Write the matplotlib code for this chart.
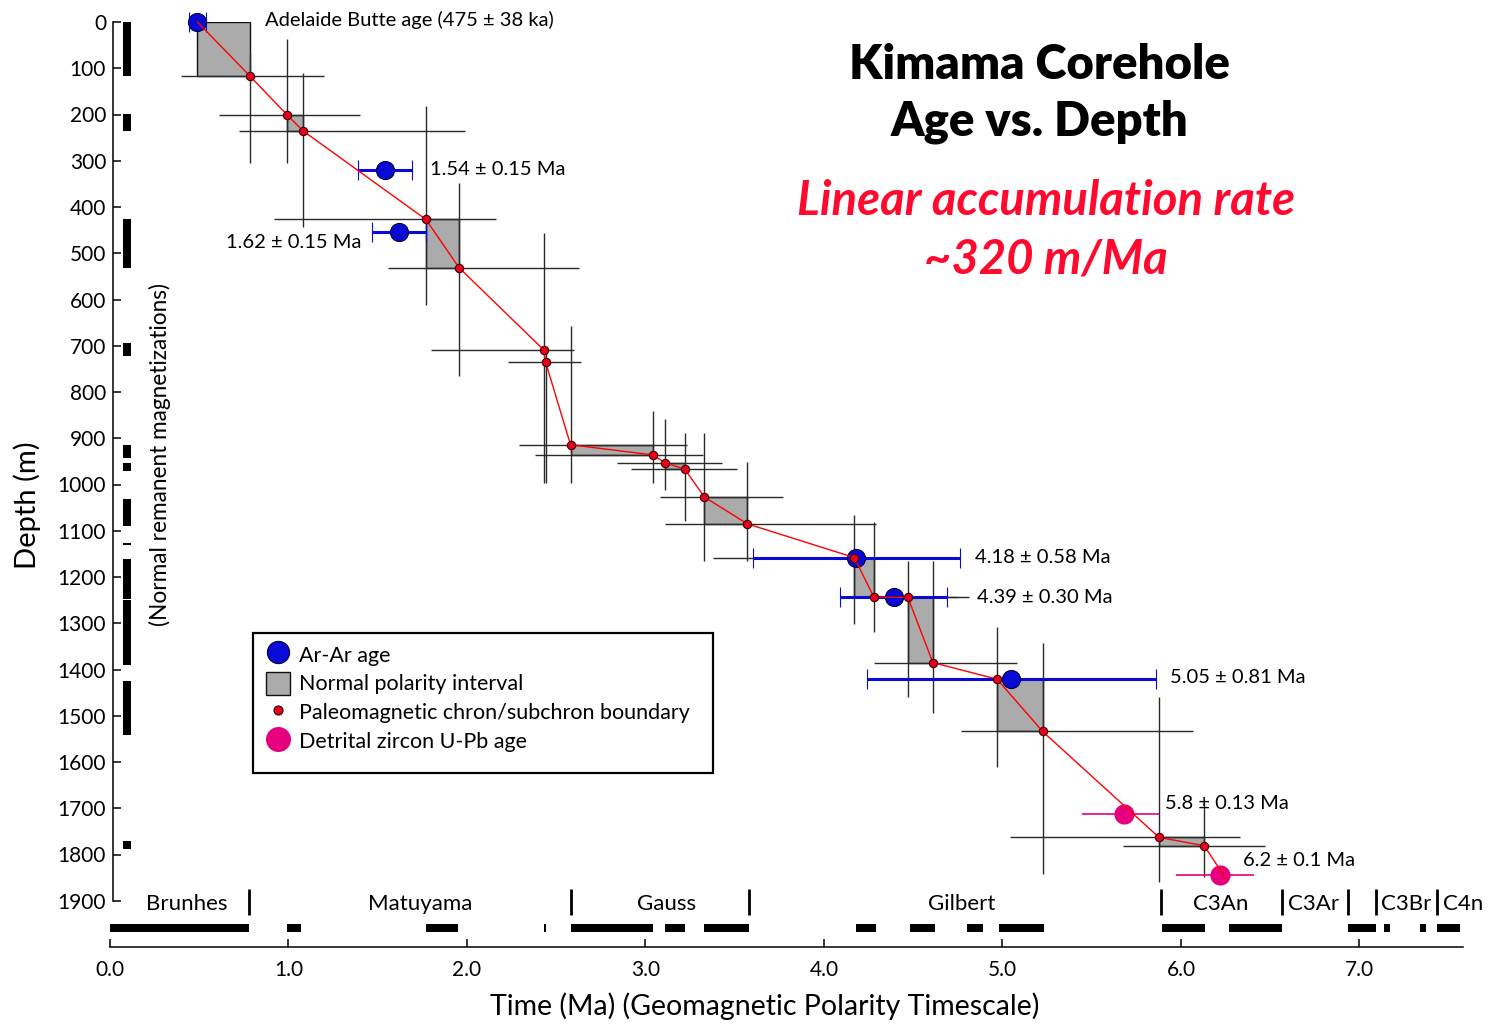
import matplotlib
matplotlib.use("Agg")
import matplotlib.pyplot as plt
from matplotlib.patches import Rectangle, Patch
from matplotlib.lines import Line2D

plt.rcParams['font.family'] = ['Lato', 'DejaVu Sans']

# ---------------- data ----------------
# Paleomagnetic chron/subchron boundaries: age (Ma), depth (m)
chron_age = [0.784, 0.99, 1.08, 1.77, 1.955, 2.43, 2.44, 2.58, 3.04, 3.11, 3.22,
             3.33, 3.57, 4.17, 4.28, 4.47, 4.61, 4.97, 5.225, 5.877, 6.13]
chron_depth = [117, 200, 235, 427, 531, 709, 735, 914, 936, 953, 967,
               1027, 1085, 1158, 1244, 1244, 1385, 1421, 1534, 1763, 1781]
# error crosses around each boundary
cross_age_lo = [0.40, 0.61, 0.72, 0.92, 1.56, 1.80, 2.23, 2.29, 2.38, 2.84, 2.92,
                3.08, 3.11, 3.38, 4.10, 4.20, 4.28, 4.40, 4.77, 5.04, 5.675]
cross_age_hi = [1.20, 1.40, 1.99, 2.16, 2.63, 2.60, 2.64, 3.23, 3.32, 3.43, 3.51,
                3.77, 4.29, 4.70, 4.81, 4.75, 5.08, 5.60, 6.07, 6.33, 6.47]
cross_depth_lo = [70, 37, 111, 182, 348, 456, 709, 657, 841, 858, 888,
                  888, 951, 1066, 1080, 1165, 1165, 1308, 1343, 1459, 1688]
cross_depth_hi = [305, 305, 443, 612, 765, 997, 997, 997, 997, 1012, 1079,
                  1165, 1165, 1301, 1318, 1459, 1494, 1610, 1842, 1859, 1848]

# Normal polarity intervals (gray boxes)
box_age0 = [0.49, 0.99, 1.77, 2.58, 3.11, 3.33, 4.17, 4.47, 4.97, 5.877]
box_age1 = [0.784, 1.08, 1.955, 3.04, 3.22, 3.57, 4.28, 4.61, 5.225, 6.13]
box_depth0 = [0, 200, 427, 914, 953, 1027, 1158, 1244, 1421, 1763]
box_depth1 = [117, 235, 531, 936, 967, 1085, 1244, 1385, 1534, 1781]

# Ar-Ar ages
ar_age = [0.49, 1.54, 1.62, 4.18, 4.39, 5.05]
ar_depth = [0, 320, 455, 1158, 1244, 1421]
ar_err = [0.05, 0.15, 0.15, 0.58, 0.30, 0.81]

# Detrital zircon U-Pb ages
zr_age = [5.68, 6.22]
zr_depth = [1712, 1845]
zr_lo = [5.445, 5.97]
zr_hi = [5.877, 6.41]

# age-depth line: start at Adelaide Butte, through boundaries, end near zircon age
line_start = (0.49, 0)
line_end = (6.25, 1851)

# Normal remanent magnetizations in the core (depth top, depth bottom)
nrm_top = [0, 199, 427, 695, 915, 954, 1031, 1127, 1162, 1250, 1424, 1770]
nrm_bot = [116, 235, 532, 722, 942, 971, 1089, 1130, 1248, 1391, 1541, 1788]

# Geomagnetic polarity timescale (normal chrons)
gpts_start = [0.0, 0.99, 1.77, 2.43, 2.581, 3.11, 3.33, 4.18, 4.48, 4.80, 4.98,
              5.894, 6.269, 6.935, 7.135, 7.341, 7.432]
gpts_end = [0.78, 1.07, 1.95, 2.445, 3.04, 3.22, 3.58, 4.29, 4.62, 4.89, 5.23,
            6.137, 6.567, 7.091, 7.170, 7.375, 7.562]
chron_marks = [0.78, 2.58, 3.58, 5.89, 6.567, 6.935, 7.091, 7.432]
chron_names = ["Brunhes", "Matuyama", "Gauss", "Gilbert", "C3An", "C3Ar", "C3Br", "C4n"]
chron_name_x = [0.43, 1.74, 3.12, 4.77, 6.22, 6.60, 7.12, 7.47]
chron_name_ha = ["center", "center", "center", "center", "center", "left", "left", "left"]

ytick_vals = list(range(0, 2000, 100))
xtick_vals = [0, 1, 2, 3, 4, 5, 6, 7]

# annotations
ann_text = ["Adelaide Butte age (475 \u00b1 38 ka)", "1.54 \u00b1 0.15 Ma", "1.62 \u00b1 0.15 Ma",
            "4.18 \u00b1 0.58 Ma", "4.39 \u00b1 0.30 Ma", "5.05 \u00b1 0.81 Ma",
            "5.8 \u00b1 0.13 Ma", "6.2 \u00b1 0.1 Ma"]
ann_x = [0.868, 1.79, 1.41, 4.846, 4.857, 5.94, 5.91, 6.35]
ann_y = [-4, 318, 476, 1157, 1245, 1418, 1689, 1814]
ann_ha = ["left", "left", "right", "left", "left", "left", "left", "left"]

# ---------------- figure ----------------
W, H = 1507, 1024
fig = plt.figure(figsize=(W / 100, H / 100), dpi=100)
ax = fig.add_axes([110 / W, 1 - 947 / H, 1353 / W, 925 / H])
ax.set_xlim(0, 7.58)
ax.set_ylim(2000, 0)

BLUE = '#0a0ad6'
RED = '#ff0000'
MAG = '#e6007e'

# gray boxes
for a0, a1, d0, d1 in zip(box_age0, box_age1, box_depth0, box_depth1):
    ax.add_patch(Rectangle((a0, d0), a1 - a0, d1 - d0, facecolor='#ababab',
                           edgecolor='#111111', lw=1.0, zorder=1))

# error crosses
ax.hlines(chron_depth, cross_age_lo, cross_age_hi, colors='#2a2a2a', lw=1.0, zorder=2)
ax.vlines(chron_age, cross_depth_lo, cross_depth_hi, colors='#2a2a2a', lw=1.0, zorder=2)

# detrital zircon
ax.hlines(zr_depth, zr_lo, zr_hi, colors=MAG, lw=1.2, zorder=3)
ax.plot(zr_age, zr_depth, 'o', ms=14.5, mfc=MAG, mec=MAG, mew=0, zorder=3, clip_on=False)

# Ar-Ar
ax.errorbar(ar_age, ar_depth, xerr=ar_err, fmt='o', ms=13, mfc=BLUE, mec='#00003a',
            mew=0.8, ecolor=BLUE, elinewidth=2.2, capsize=7, capthick=2.2,
            zorder=4, clip_on=False)

# age-depth line and boundary dots
line_x = [line_start[0]] + chron_age + [line_end[0]]
line_y = [line_start[1]] + chron_depth + [line_end[1]]
ax.plot(line_x, line_y, color=RED, lw=1.0, zorder=5, clip_on=False)
ax.plot(chron_age, chron_depth, 'o', ms=6, mfc='#e8001c', mec='#3a0000', mew=0.8, zorder=6)

# normal remanent magnetization column
ax.bar([0.095] * len(nrm_top), [b - t for t, b in zip(nrm_top, nrm_bot)], width=0.045,
       bottom=nrm_top, color='black', lw=0, zorder=2)

# polarity timescale bar
ax.broken_barh([(s, e - s) for s, e in zip(gpts_start, gpts_end)], (1950, 17),
               facecolors='black', zorder=2)
ax.vlines(chron_marks, 1875, 1931, colors='black', lw=2.0, zorder=2)
for name, x, ha in zip(chron_names, chron_name_x, chron_name_ha):
    ax.text(x, 1906, name, ha=ha, va='center', fontsize=16)

# annotations
for t, x, y, ha in zip(ann_text, ann_x, ann_y, ann_ha):
    ax.text(x, y, t, ha=ha, va='center', fontsize=14.5, clip_on=False)

# axes styling
for s in ['top', 'right']:
    ax.spines[s].set_visible(False)
ax.spines['left'].set_bounds(0, 1900)
ax.spines['left'].set_position(('axes', 3 / 1353))
ax.spines['left'].set_linewidth(1.1)
ax.spines['bottom'].set_linewidth(1.1)
ax.set_yticks(ytick_vals)
ax.set_yticklabels([str(v) for v in ytick_vals])
ax.set_xticks(xtick_vals)
ax.set_xticklabels(["%.1f" % v for v in xtick_vals])
ax.tick_params(axis='y', direction='in', length=6, width=1.1, pad=5, labelsize=15)
ax.tick_params(axis='x', direction='in', length=6, width=1.1, pad=9, labelsize=15)

# axis labels
fig.text(27 / W, 1 - 505 / H, "Depth (m)", rotation=90, ha='center', va='center', fontsize=21)
fig.text(765 / W, 1 - 1006 / H, "Time (Ma) (Geomagnetic Polarity Timescale)",
         ha='center', va='center', fontsize=20.5)
fig.text(160 / W, 1 - 455 / H, "(Normal remanent magnetizations)", rotation=90,
         ha='center', va='center', fontsize=16.3)

# titles
fig.text(1039 / W, 1 - 65 / H, "Kimama Corehole", ha='center', va='center',
         fontsize=34, fontweight='heavy')
fig.text(1039 / W, 1 - 122 / H, "Age vs. Depth", ha='center', va='center',
         fontsize=34, fontweight='heavy')
fig.text(1046 / W, 1 - 201 / H, "Linear accumulation rate", ha='center', va='center',
         fontsize=34, fontweight='bold', style='italic', color='#ff0a2e')
fig.text(1046 / W, 1 - 259 / H, "~320 m/Ma", ha='center', va='center',
         fontsize=34, fontweight='bold', style='italic', color='#ff0a2e')

# legend
handles = [Line2D([], [], ls='none', marker='o', ms=16, mfc=BLUE, mec='#00003a', mew=0.8),
           Patch(facecolor='#ababab', edgecolor='#111111', lw=1.0),
           Line2D([], [], ls='none', marker='o', ms=6.5, mfc='#e8001c', mec='#3a0000', mew=0.8),
           Line2D([], [], ls='none', marker='o', ms=18, mfc=MAG, mec=MAG, mew=0)]
labels = ["Ar-Ar age", "Normal polarity interval", "Paleomagnetic chron/subchron boundary",
          "Detrital zircon U-Pb age"]
fig.legend(handles, labels, loc='upper left', bbox_to_anchor=(265.5 / W, 1 - 643 / H),
           bbox_transform=fig.transFigure, frameon=False, fontsize=15.5, borderpad=0,
           borderaxespad=0, handlelength=1.15, handleheight=1.25, handletextpad=0.4,
           labelspacing=0.28)
fig.patches.append(Rectangle((253 / W, 1 - 773 / H), 460 / W, 140 / H, fill=False,
                             edgecolor='black', lw=1.6, transform=fig.transFigure,
                             figure=fig))

fig.savefig("out.png", dpi=100)
